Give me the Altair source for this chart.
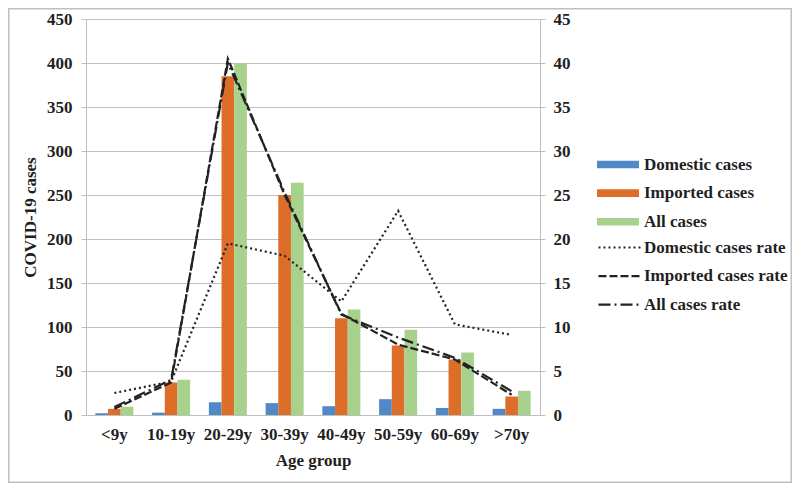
import altair as alt
import pandas as pd

ages = ["<9y", "10-19y", "20-29y", "30-39y", "40-49y", "50-59y", "60-69y", ">70y"]

domestic_cases = [2, 2.7, 14.5, 13.5, 10, 18, 8, 7]
imported_cases = [7, 37, 385, 250, 110, 79, 63, 21]
all_cases = [9.5, 40, 400, 264, 120, 97, 71, 27.5]

domestic_rate = [2.5, 3.8, 19.5, 18.1, 12.9, 23.2, 10.3, 9.1]
imported_rate = [0.7, 3.7, 40.5, 25.0, 11.5, 8.0, 6.3, 2.3]
all_rate = [0.9, 4.0, 40.0, 25.3, 11.4, 8.8, 6.5, 2.7]

bar_series = ["Domestic cases", "Imported cases", "All cases"]
line_series = ["Domestic cases rate", "Imported cases rate", "All cases rate"]
bar_colors = ["#4f89c7", "#dc6e2a", "#a9d18e"]
line_dashes = [[2, 3], [8, 3], [12, 4, 2, 4]]

bar_rows = []
for s, vals in zip(bar_series, [domestic_cases, imported_cases, all_cases]):
    for a, v in zip(ages, vals):
        bar_rows.append({"age": a, "series": s, "cases": v})
bars_df = pd.DataFrame(bar_rows)

line_rows = []
for s, vals in zip(line_series, [domestic_rate, imported_rate, all_rate]):
    for a, v in zip(ages, vals):
        line_rows.append({"age": a, "series": s, "rate": v})
lines_df = pd.DataFrame(line_rows)

FONT = "Liberation Serif"
FS = 17
TXT = "#1f1f1f"
GRAY = "#bfbfbf"

x_enc = alt.X(
    "age:N",
    sort=ages,
    scale=alt.Scale(domain=ages, paddingInner=0.33, paddingOuter=0.165),
    axis=alt.Axis(
        title="Age group", labelAngle=0, ticks=False, labelPadding=11,
        titlePadding=10, domainColor=GRAY, labelFont=FONT, labelFontSize=FS,
        labelFontWeight="bold", labelColor=TXT, titleFont=FONT,
        titleFontSize=FS, titleFontWeight="bold", titleColor=TXT,
    ),
)

bars = alt.Chart(bars_df).mark_bar().encode(
    x=x_enc,
    xOffset=alt.XOffset("series:N", sort=bar_series,
                        scale=alt.Scale(domain=bar_series, paddingInner=0, paddingOuter=0)),
    y=alt.Y(
        "cases:Q",
        scale=alt.Scale(domain=[0, 450], nice=False),
        axis=alt.Axis(
            title="COVID-19 cases", values=list(range(0, 451, 50)), grid=True,
            gridColor=GRAY, domainColor=GRAY, tickColor=GRAY, tickSize=5,
            labelPadding=9, titlePadding=7, labelFont=FONT, labelFontSize=FS,
            labelFontWeight="bold", labelColor=TXT, titleFont=FONT,
            titleFontSize=FS, titleFontWeight="bold", titleColor=TXT,
        ),
    ),
    color=alt.Color(
        "series:N", sort=bar_series,
        scale=alt.Scale(domain=bar_series, range=bar_colors),
        legend=alt.Legend(
            orient="none", legendX=511, legendY=137, title=None,
            symbolType="M-1,-0.18H1V0.18H-1Z", symbolSize=1764,
            symbolStrokeWidth=0, clipHeight=17, rowPadding=10.6,
            labelOffset=5, labelFont=FONT, labelFontSize=FS,
            labelFontWeight="bold", labelColor=TXT,
        ),
    ),
)

lines = alt.Chart(lines_df).mark_line(color="#222222", strokeWidth=2.2).encode(
    x=x_enc,
    y=alt.Y(
        "rate:Q",
        scale=alt.Scale(domain=[0, 45], nice=False),
        axis=alt.Axis(
            orient="right", title=None, values=list(range(0, 46, 5)), grid=False,
            domainColor=GRAY, tickColor=GRAY, tickSize=5, labelPadding=8,
            labelFont=FONT, labelFontSize=FS, labelFontWeight="bold",
            labelColor=TXT,
        ),
    ),
    strokeDash=alt.StrokeDash(
        "series:N", sort=line_series,
        scale=alt.Scale(domain=line_series, range=line_dashes),
        legend=alt.Legend(
            orient="none", legendX=511, legendY=220, title=None,
            symbolType="stroke", symbolSize=1764, symbolStrokeWidth=2.2,
            symbolStrokeColor="#222222", clipHeight=17, rowPadding=10.6,
            labelOffset=2, labelFont=FONT, labelFontSize=FS,
            labelFontWeight="bold", labelColor=TXT,
        ),
    ),
)

border = alt.Chart(pd.DataFrame({"k": [0]})).mark_rect(
    filled=False, stroke=GRAY, strokeWidth=1.5
).encode(
    x=alt.value(-77.25), x2=alt.value(705.25),
    y=alt.value(-10.25), y2=alt.value(463.25),
)

chart = (
    alt.layer(bars, lines, border)
    .resolve_scale(y="independent")
    .properties(
        width=454, height=396,
        autosize=alt.AutoSizeParams(type="none"),
        padding={"left": 78, "top": 11, "right": 252, "bottom": 68},
    )
    .configure_view(stroke=None)
)

chart.save("out.html", embed_options={"renderer": "svg", "actions": False})
